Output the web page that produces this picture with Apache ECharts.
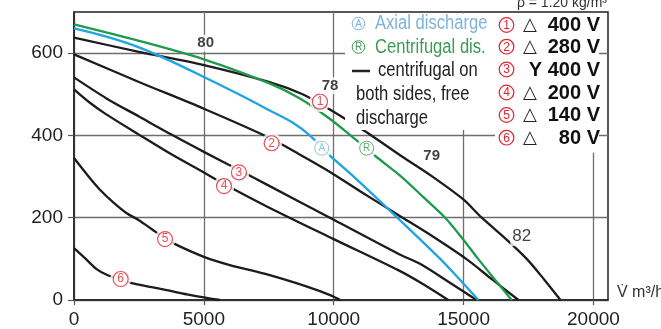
<!DOCTYPE html>
<html><head><meta charset="utf-8">
<script src="https://cdn.jsdelivr.net/npm/echarts@6/dist/echarts.min.js"></script>
<style>html,body{margin:0;padding:0;background:#fff}#c{width:661px;height:329px}</style>
</head><body><div id="c"></div>
<script>
// ---- data ----
const xTicks = [0, 5000, 10000, 15000, 20000];
const yTicks = [0, 200, 400, 600];
const curve1 = [[0,638],[2500,603],[5000,571],[7500,530],[8800,500],[9800,465],[10450,440],[11450,400],[12600,350],[13800,300],[14980,245],[15700,200],[16600,150],[17430,100],[18100,50],[18730,0]];
const curve2 = [[0,597],[2500,530],[5000,465],[7500,395],[8600,357],[9730,316],[11000,265],[12500,206],[13800,155],[15100,100],[16100,50],[17110,0]];
const curve3 = [[0,541],[1250,490],[2500,446],[3750,402],[5000,360],[6350,316],[7500,278],[10000,195],[12500,112],[13320,88],[14400,45],[15500,0]];
const curve4 = [[0,512],[600,480],[1200,453],[2500,402],[3750,354],[5000,310],[5780,282],[7500,225],[10000,148],[12500,72],[13320,43],[14410,0]];
const curve5 = [[0,345],[500,305],[1000,268],[1500,238],[2030,211],[2500,194],[3000,172],[3500,150],[3950,134],[5000,105],[6000,85],[7500,61],[9000,32],[9860,12],[10250,0]];
const curve6 = [[0,126],[400,103],[870,75],[1300,60],[1800,50],[2220,41],[3000,31],[3570,24],[4500,12],[5620,0]];
const axial = [[0,660],[1250,640],[2500,614],[3750,580],[5000,542],[6250,503],[7500,462],[8400,432],[9100,399],[9780,355],[10800,298],[12450,200],[14100,100],[14850,50],[15570,0]];
const centrifugal = [[0,670],[2500,630],[5000,585],[7500,527],[8700,490],[9860,440],[10650,400],[11600,350],[12600,300],[13450,250],[14290,200],[15000,146],[15560,100],[16200,50],[16850,0]];
const curveMarks = [[9470,482,'1'],[7610,381,'2'],[6350,310,'3'],[5775,277,'4'],[3505,148,'5'],[1797,51,'6']];
const letterMarks = [[9540,369,'A'],[11270,369,'R']];
const levelLabels = [[5070,624,'80'],[9860,521,'78'],[13770,350,'79'],[17240,154,'82']];
const levelBold = [true,true,true,false];
const legendLeft = ['Axial discharge','Centrifugal dis.','centrifugal on','both sides, free','discharge'];
const legendNums = ['1','2','3','4','5','6'];
const legendVolt = ['400 V','280 V','Y 400 V','200 V','140 V','80 V'];
const legendTri = [true,true,false,true,true,true];

const BLACK='#1c1c1c', BLUE='#1ea4e2', GREEN='#1e9a4c', RED='#e2232d', LBLUE='#7db3dc', LGREEN='#3d9a52';
const FONT='Liberation Sans, Arial, sans-serif';

function lineSeries(data, color){
  return {type:'line', data, smooth:0.3, showSymbol:false, symbol:'none', z:2,
    lineStyle:{color, width:2.3}, silent:true};
}

const series = [
  lineSeries(curve6,BLACK), lineSeries(curve5,BLACK), lineSeries(curve4,BLACK),
  lineSeries(curve3,BLACK), lineSeries(curve2,BLACK), lineSeries(curve1,BLACK),
  lineSeries(axial,BLUE), lineSeries(centrifugal,GREEN),
  {type:'scatter', z:3, silent:true, symbol:'circle', symbolSize:21,
   itemStyle:{color:'#fff'}, data: curveMarks.concat(letterMarks).map(d=>[d[0],d[1]])},
  {type:'scatter', z:4, silent:true, symbol:'circle', symbolSize:15,
   itemStyle:{color:'#fff', borderColor:RED, borderWidth:1.2},
   label:{show:true, position:'inside', formatter:p=>curveMarks[p.dataIndex][2], color:RED, fontSize:12, fontFamily:FONT},
   data: curveMarks.map(d=>[d[0],d[1]])},
  {type:'scatter', z:4, silent:true, symbol:'circle', symbolSize:14,
   label:{show:true, position:'inside', formatter:p=>letterMarks[p.dataIndex][2], fontSize:10, fontFamily:FONT},
   data: letterMarks.map((d,i)=>({value:[d[0],d[1]],
     itemStyle:{color:'#fff', borderColor:i===0?LBLUE:LGREEN, borderWidth:1},
     label:{color:i===0?LBLUE:LGREEN}}))},
  {type:'scatter', z:4, silent:true, symbolSize:0,
   label:{show:true, position:'inside', formatter:p=>levelLabels[p.dataIndex][2], color:'#111', fontSize:16, fontFamily:FONT,
     backgroundColor:'#fff', padding:[1,2]},
   data: levelLabels.map((d,i)=>({value:[d[0],d[1]], label:{fontWeight:levelBold[i]?'bold':'normal', fontSize:levelBold[i]?15:17}}))}
];

// legend graphics
const g = [];
g.push({type:'rect', z:50, shape:{x:345,y:13.5,width:254,height:116.5}, style:{fill:'#fff'}});
g.push({type:'rect', z:50, shape:{x:495,y:13.5,width:104,height:139}, style:{fill:'#fff'}});
const leftY=[23.5,47,70.7,94.3,118.3];
const leftX=[375,375,378,356,356];
const leftC=[LBLUE,LGREEN,'#222','#222','#222'];
legendLeft.forEach((t,i)=>{
  g.push({type:'text', z:51, x:leftX[i], y:leftY[i], scaleX:0.83,
    style:{text:t, x:0, y:0, fill:leftC[i], font:'20px '+FONT, textVerticalAlign:'middle', textAlign:'left'}});
});
g.push({type:'circle', z:51, shape:{cx:358.5,cy:23.5,r:6.3}, style:{fill:'#fff',stroke:LBLUE,lineWidth:1}});
g.push({type:'text', z:52, x:358.5, y:24, style:{text:'A', fill:LBLUE, font:'10px '+FONT, textAlign:'center', textVerticalAlign:'middle'}});
g.push({type:'circle', z:51, shape:{cx:358.5,cy:47,r:6.3}, style:{fill:'#fff',stroke:LGREEN,lineWidth:1}});
g.push({type:'text', z:52, x:358.5, y:47.5, style:{text:'R', fill:LGREEN, font:'10px '+FONT, textAlign:'center', textVerticalAlign:'middle'}});
g.push({type:'line', z:51, shape:{x1:352,y1:71,x2:370,y2:71}, style:{stroke:'#222',lineWidth:2.5}});
const rightY=[25,46.7,69.5,92.5,115,137.7];
legendNums.forEach((n,i)=>{
  g.push({type:'circle', z:51, shape:{cx:506.5,cy:rightY[i],r:7.3}, style:{fill:'#fff',stroke:RED,lineWidth:1.2}});
  g.push({type:'text', z:52, x:506.5, y:rightY[i]+0.5, style:{text:n, fill:RED, font:'12px '+FONT, textAlign:'center', textVerticalAlign:'middle'}});
  if (legendTri[i]) g.push({type:'text', z:51, x:523, y:rightY[i]+0.5, style:{text:'△', fill:'#222', font:'18px DejaVu Sans', textAlign:'left', textVerticalAlign:'middle'}});
  g.push({type:'text', z:51, x:600, y:rightY[i]+0.5, style:{text:legendVolt[i], fill:'#111', font:'bold 20px '+FONT, textAlign:'right', textVerticalAlign:'middle'}});
});
g.push({type:'text', z:51, x:607, y:10, style:{text:'ρ = 1.20 kg/m³', fill:'#333', font:'14px '+FONT, textAlign:'right', textVerticalAlign:'bottom'}});
g.push({type:'text', z:51, x:617, y:293, style:{text:'V̇ m³/h', fill:'#333', font:'16px '+FONT, textAlign:'left', textVerticalAlign:'middle'}});

const chart = echarts.init(document.getElementById('c'), null, {renderer:'canvas'});
chart.setOption({
  animation:false,
  grid:{left:74, right:53, top:12, bottom:29, show:true, borderColor:'#222', borderWidth:1.5, backgroundColor:'transparent'},
  xAxis:{type:'value', min:0, max:20560, interval:2500,
    axisLine:{show:true, onZero:false, lineStyle:{color:'#222', width:1.5}},
    axisTick:{show:true, customValues:xTicks, length:5, lineStyle:{color:'#555', width:1.2}},
    axisLabel:{customValues:xTicks, margin:10, fontSize:19, color:'#222', fontFamily:FONT,
      formatter:v=>xTicks.indexOf(v)>=0?String(v):''},
    splitLine:{show:true, lineStyle:{color:'#6e6e6e', width:1.3}}},
  yAxis:{type:'value', min:0, max:700, interval:100,
    axisLine:{show:true, lineStyle:{color:'#222', width:1.5}},
    axisTick:{show:true, customValues:yTicks, length:6, lineStyle:{color:'#555', width:1.2}},
    axisLabel:{customValues:yTicks, margin:11, fontSize:19, color:'#222', fontFamily:FONT,
      formatter:v=>yTicks.indexOf(v)>=0?String(v):''},
    splitLine:{show:true, lineStyle:{color:'#6e6e6e', width:1.3}}},
  series,
  graphic:{elements:g}
});
</script></body></html>
